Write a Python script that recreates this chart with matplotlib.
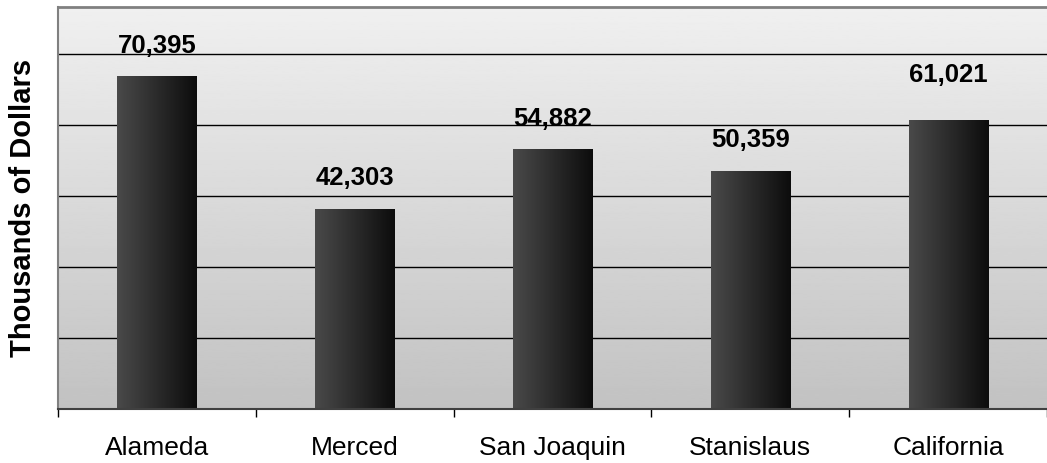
import numpy as np
import matplotlib.pyplot as plt

# Datos
condados = ['Alameda', 'Merced', 'San Joaquin', 'Stanislaus', 'California']
ingresos = [70395, 42303, 54882, 50359, 61021]
etiquetas = ['70,395', '42,303', '54,882', '50,359', '61,021']

# separacion extra de la etiqueta (California se movio a mano en el original)
desplazamiento = [14, 14, 14, 14, 25]

plt.rcParams['font.family'] = ['Liberation Sans', 'DejaVu Sans']

fig = plt.figure(figsize=(10.47, 4.64), dpi=100)
ax = fig.add_axes([58 / 1047, 54 / 464, 989 / 1047, 402 / 464])

x = np.arange(len(condados))

# Fondo en degradado (claro arriba, oscuro abajo)
fondo = np.linspace(0.76, 0.94, 256).reshape(-1, 1)
ax.imshow(fondo, extent=[0, 1, 0, 1], transform=ax.transAxes, cmap='gray',
          vmin=0, vmax=1, aspect='auto', origin='lower', zorder=0)

# Lineas de la cuadricula
for yv in range(15000, 85000, 15000):
    ax.axhline(yv, color='black', linewidth=1, zorder=1)

# Barras con degradado horizontal
barras = ax.bar(x, ingresos, width=0.4, color='none', zorder=2)
grad = np.linspace(0.29, 0.05, 256).reshape(1, -1)
for b in barras:
    x0, w, h = b.get_x(), b.get_width(), b.get_height()
    im = ax.imshow(grad, extent=[x0, x0 + w, 0, h], cmap='gray', vmin=0, vmax=1,
                   aspect='auto', zorder=2)
    im.set_clip_path(b)

ax.set_xlim(-0.5, len(condados) - 0.5)
ax.set_ylim(0, 85000)

# Etiquetas de valor
for xi, v, t, d in zip(x, ingresos, etiquetas, desplazamiento):
    ax.annotate(t, (xi, v), xytext=(0, d), textcoords='offset points',
                ha='center', va='bottom', fontsize=18.5, fontweight='bold')

# Ejes
ax.set_yticks([])
ax.set_xticks(x)
ax.set_xticklabels(condados, fontsize=19)
ax.tick_params(axis='x', which='major', length=0, pad=19)
ax.set_xticks(np.arange(-0.5, len(condados), 1), minor=True)
ax.tick_params(axis='x', which='minor', length=6, width=1, color='black', direction='out')

ax.spines['right'].set_visible(False)
ax.spines['left'].set_color('#808080')
ax.spines['left'].set_linewidth(1.5)
ax.spines['top'].set_color('#808080')
ax.spines['top'].set_linewidth(2)
ax.spines['bottom'].set_color('#404040')
ax.spines['bottom'].set_linewidth(1.5)

fig.text(23.5 / 1047, 1 - 208 / 464, 'Thousands of Dollars', rotation=90,
         ha='center', va='center', fontsize=21, fontweight='bold')

plt.savefig('out.png', dpi=100)
